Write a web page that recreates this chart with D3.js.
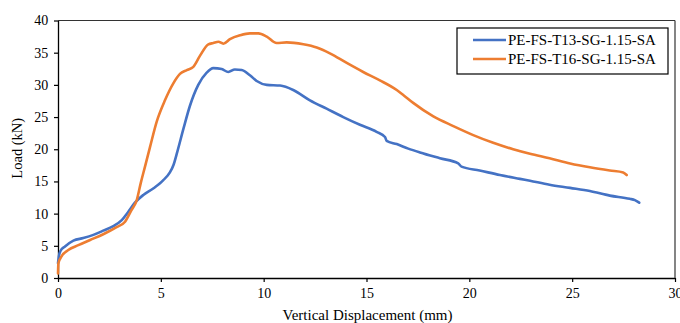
<!DOCTYPE html>
<html>
<head>
<meta charset="utf-8">
<script src="https://cdn.jsdelivr.net/npm/d3@7"></script>
<style>
  body { margin: 0; background: #fff; }
  svg text { font-family: "Liberation Serif", "Times New Roman", serif; }
</style>
</head>
<body>
<svg id="chart" width="680" height="323"></svg>
<script>
// series labels
const seriesNames = ["PE-FS-T13-SG-1.15-SA", "PE-FS-T16-SG-1.15-SA"];
const seriesColors = ["#4472C4", "#ED7D31"];

// T13 curve (displacement mm, load kN)
const t13Disp = [0, 0.05, 0.12, 0.34, 0.75, 1.23, 1.72, 2.2, 2.69, 3.1, 3.42, 3.74, 4.15, 4.63, 5.12, 5.44, 5.62, 5.8, 6.1, 6.42, 6.82, 7.23, 7.55, 7.96, 8.28, 8.6, 8.93, 9.33, 9.66, 10.15, 10.8, 11.44, 12.25, 13.06, 13.87, 14.68, 15.49, 15.9, 15.98, 16.47, 17.03, 17.6, 18.57, 19.46, 19.62, 20.5, 21.49, 22.46, 22.95, 23.9, 24.9, 25.86, 26.83, 27.8, 28.05, 28.26];
const t13Load = [2.3, 3.5, 4.2, 4.9, 5.8, 6.2, 6.7, 7.35, 8.07, 9.0, 10.3, 11.7, 12.9, 13.9, 15.2, 16.4, 17.6, 19.6, 23.2, 26.8, 30.0, 31.9, 32.6, 32.45, 32.0, 32.4, 32.3, 31.5, 30.6, 30.0, 29.9, 29.2, 27.6, 26.3, 25.0, 23.8, 22.7, 21.9, 21.3, 20.8, 20.1, 19.5, 18.6, 17.8, 17.3, 16.7, 16.0, 15.4, 15.1, 14.5, 14.0, 13.5, 12.8, 12.3, 12.1, 11.7];

// T16 curve
const t16Disp = [0, 0.02, 0.18, 0.5, 0.99, 1.56, 2.2, 2.85, 3.26, 3.58, 3.83, 4.02, 4.23, 4.47, 4.8, 5.2, 5.6, 5.93, 6.26, 6.58, 6.9, 7.31, 7.55, 7.8, 8.04, 8.36, 8.85, 9.33, 9.74, 10.15, 10.63, 11.12, 11.93, 12.58, 13.22, 14.04, 14.84, 15.65, 16.47, 16.8, 17.27, 18.25, 19.22, 20.19, 21.16, 22.13, 22.95, 23.9, 24.9, 25.86, 26.83, 27.48, 27.65];
const t16Load = [0.7, 2.3, 3.4, 4.35, 5.1, 5.9, 6.8, 7.9, 8.75, 10.6, 12.1, 14.7, 17.3, 20.3, 24.3, 27.6, 30.2, 31.7, 32.3, 32.8, 34.5, 36.3, 36.5, 36.7, 36.4, 37.1, 37.7, 38.0, 38.0, 37.5, 36.5, 36.6, 36.3, 35.8, 34.9, 33.4, 32.0, 30.7, 29.2, 28.4, 27.2, 25.1, 23.6, 22.2, 21.0, 20.0, 19.3, 18.6, 17.8, 17.2, 16.7, 16.4, 16.0];

// ticks
const xTicks = [0, 5, 10, 15, 20, 25, 30];
const yTicks = [0, 5, 10, 15, 20, 25, 30, 35, 40];

const FONT = "Liberation Serif, Times New Roman, serif";

const svg = d3.select("#chart");
const margin = {top: 20.5, right: 5, bottom: 45, left: 58};
const width = 680 - margin.left - margin.right,
      height = 323 - margin.top - margin.bottom;

const g = svg.append("g")
    .attr("transform", "translate(" + margin.left + "," + margin.top + ")");

const x = d3.scaleLinear().domain([0, 30]).range([0, width]);
const y = d3.scaleLinear().domain([0, 40]).range([height, 0]);

// axes
const xAxis = g.append("g")
    .attr("transform", "translate(0," + height + ")")
    .call(d3.axisBottom(x).tickValues(xTicks).tickSize(4).tickSizeOuter(0));
const yAxis = g.append("g")
    .call(d3.axisLeft(y).tickValues(yTicks).tickSize(4).tickSizeOuter(0));

[xAxis, yAxis].forEach(a => {
  a.attr("font-family", FONT).attr("font-size", 14);
  a.select(".domain").attr("stroke", "#000").attr("stroke-width", 1.3);
  a.selectAll(".tick line").attr("stroke", "#000").attr("stroke-width", 1.2);
  a.selectAll(".tick text").attr("fill", "#000");
});
xAxis.selectAll(".tick text").attr("dy", "0.95em");
yAxis.selectAll(".tick text").attr("dx", "-0.2em");

// frame top and right
g.append("line").attr("x1", 0).attr("x2", width).attr("y1", 0).attr("y2", 0)
  .attr("stroke", "#333").attr("stroke-width", 1.2);
g.append("line").attr("x1", width).attr("x2", width).attr("y1", 0).attr("y2", height)
  .attr("stroke", "#333").attr("stroke-width", 1.2);

// axis titles
svg.append("text")
  .attr("x", margin.left + width / 2 + 1)
  .attr("y", 320)
  .attr("text-anchor", "middle")
  .attr("font-family", FONT)
  .attr("font-size", 15)
  .text("Vertical Displacement (mm)");

svg.append("text")
  .attr("transform", "translate(22," + (margin.top + height / 2 - 1) + ") rotate(-90)")
  .attr("text-anchor", "middle")
  .attr("font-family", FONT)
  .attr("font-size", 14.5)
  .text("Load (kN)");

// lines
const line = d3.line()
  .x(d => x(d[0]))
  .y(d => y(d[1]))
  .curve(d3.curveMonotoneX);

const series = [
  d3.zip(t13Disp, t13Load),
  d3.zip(t16Disp, t16Load)
];

series.forEach((s, i) => {
  g.append("path")
    .datum(s)
    .attr("fill", "none")
    .attr("stroke", seriesColors[i])
    .attr("stroke-width", 2.6)
    .attr("stroke-linejoin", "round")
    .attr("stroke-linecap", "round")
    .attr("d", line);
});

// legend
const legend = svg.append("g").attr("transform", "translate(457,28)");
legend.append("rect")
  .attr("width", 211).attr("height", 46)
  .attr("fill", "#fff").attr("stroke", "#000").attr("stroke-width", 1.2);

seriesNames.forEach((name, i) => {
  const ly = 12 + i * 19;
  legend.append("line")
    .attr("x1", 16).attr("x2", 49).attr("y1", ly).attr("y2", ly)
    .attr("stroke", seriesColors[i]).attr("stroke-width", 2.6);
  legend.append("text")
    .attr("x", 51).attr("y", ly + 5)
    .attr("font-family", FONT)
    .attr("font-size", 15)
    .text(name);
});
</script>
</body>
</html>
